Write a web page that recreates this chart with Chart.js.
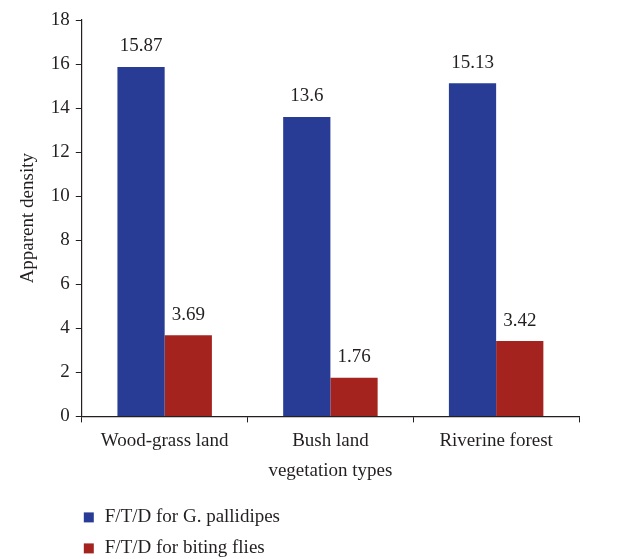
<!DOCTYPE html>
<html>
<head>
<meta charset="utf-8">
<script src="https://cdn.jsdelivr.net/npm/chart.js@4.4.1/dist/chart.umd.min.js"></script>
<style>
  html, body { margin: 0; padding: 0; background: #fff; }
  #wrap { width: 637px; height: 559px; position: relative; }
</style>
</head>
<body>
<div id="wrap"><canvas id="chart"></canvas></div>
<script>
// datos
const categories = ['Wood-grass land', 'Bush land', 'Riverine forest'];
const pallidipes = [15.87, 13.6, 15.13];
const bitingFlies = [3.69, 1.76, 3.42];
const seriesNames = ['F/T/D for G. pallidipes', 'F/T/D for biting flies'];
const seriesColors = ['#283c96', '#a5231e'];
const yTicks = [0, 2, 4, 6, 8, 10, 12, 14, 16, 18];

const FONT = '"Liberation Serif", "DejaVu Serif", serif';
const SIZE = 19;

// etiquetas encima de cada barra
const valueLabels = {
    id: 'valueLabels',
    afterDatasetsDraw(chart) {
        const ctx = chart.ctx;
        ctx.save();
        ctx.font = SIZE + 'px ' + FONT;
        ctx.fillStyle = '#231f20';
        ctx.textAlign = 'center';
        ctx.textBaseline = 'bottom';
        chart.data.datasets.forEach((ds, i) => {
            chart.getDatasetMeta(i).data.forEach((bar, j) => {
                ctx.fillText(String(ds.data[j]), bar.x, bar.y - 11);
            });
        });
        ctx.restore();
    }
};

// leyenda vertical abajo a la izquierda
const sideLegend = {
    id: 'sideLegend',
    afterDraw(chart) {
        const ctx = chart.ctx;
        const area = chart.chartArea;
        ctx.save();
        ctx.font = SIZE + 'px ' + FONT;
        ctx.textBaseline = 'middle';
        chart.data.datasets.forEach((ds, i) => {
            const y = area.bottom + 101 + i * 31;
            ctx.fillStyle = ds.backgroundColor;
            ctx.fillRect(area.left + 2, y - 5, 10, 10);
            ctx.fillStyle = '#231f20';
            ctx.fillText(ds.label, area.left + 23, y);
        });
        ctx.restore();
    }
};

new Chart(document.getElementById('chart'), {
    type: 'bar',
    data: {
        labels: categories,
        datasets: [
            { label: seriesNames[0], data: pallidipes, backgroundColor: seriesColors[0] },
            { label: seriesNames[1], data: bitingFlies, backgroundColor: seriesColors[1] }
        ]
    },
    options: {
        responsive: true,
        maintainAspectRatio: false,
        animation: false,
        devicePixelRatio: 1,
        layout: { padding: { top: 20, right: 58, bottom: 77, left: 17 } },
        datasets: { bar: { categoryPercentage: 0.57, barPercentage: 1 } },
        plugins: {
            legend: { display: false },
            tooltip: { enabled: false }
        },
        scales: {
            x: {
                grid: { display: true, drawOnChartArea: false, color: '#231f20', tickLength: 6, offset: true },
                border: { color: '#231f20', width: 1.2 },
                ticks: { color: '#231f20', font: { family: FONT, size: SIZE }, padding: 7 },
                title: { display: true, text: 'vegetation types', color: '#231f20', font: { family: FONT, size: SIZE }, padding: { top: 0, bottom: 0 } }
            },
            y: {
                min: 0,
                max: 18,
                afterBuildTicks: axis => { axis.ticks = yTicks.map(v => ({ value: v })); },
                grid: { display: true, drawOnChartArea: false, color: '#231f20', tickLength: 6 },
                border: { color: '#231f20', width: 1.2 },
                ticks: { color: '#231f20', font: { family: FONT, size: SIZE }, padding: 6 },
                title: { display: true, text: 'Apparent density', color: '#231f20', font: { family: FONT, size: SIZE }, padding: { top: 0, bottom: 5 } }
            }
        }
    },
    plugins: [valueLabels, sideLegend]
});
</script>
</body>
</html>
